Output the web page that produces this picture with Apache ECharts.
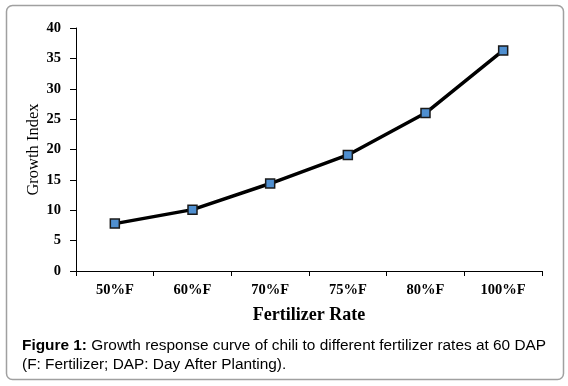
<!DOCTYPE html>
<html>
<head>
<meta charset="utf-8">
<script src="https://cdn.jsdelivr.net/npm/echarts@6/dist/echarts.min.js"></script>
<style>
  html, body { margin: 0; padding: 0; background: #fff; }
  #chart { width: 568px; height: 386px; }
</style>
</head>
<body>
<div id="chart"></div>
<script>
// chart data
const rates = ['50%F', '60%F', '70%F', '75%F', '80%F', '100%F'];
const growthIndex = [7.8, 10.1, 14.4, 19.1, 26.0, 36.3];

const myChart = echarts.init(document.getElementById('chart'));

const serif = '"Liberation Serif", "Times New Roman", serif';
const sans = '"Liberation Sans", Arial, sans-serif';

const option = {
  animation: false,
  backgroundColor: '#fff',
  grid: { left: 76, right: 26, top: 28, bottom: 115 },
  xAxis: {
    type: 'category',
    data: rates,
    boundaryGap: true,
    name: 'Fertilizer Rate',
    nameLocation: 'middle',
    nameGap: 35,
    nameTextStyle: { fontFamily: serif, fontSize: 18, fontWeight: 'bold', color: '#000' },
    axisLine: { lineStyle: { color: '#000', width: 1 } },
    axisTick: { show: true, length: 5, lineStyle: { color: '#000' } },
    axisLabel: { fontFamily: serif, fontSize: 14.5, fontWeight: 'bold', color: '#000', margin: 12 }
  },
  yAxis: {
    type: 'value',
    min: 0,
    max: 40,
    interval: 5,
    name: 'Growth Index',
    nameLocation: 'middle',
    nameGap: 34,
    nameMoveOverlap: false,
    nameTextStyle: { fontFamily: serif, fontSize: 16.5, color: '#000' },
    axisLine: { show: true, lineStyle: { color: '#000', width: 1 } },
    axisTick: { show: true, length: 6, lineStyle: { color: '#000' } },
    splitLine: { show: false },
    axisLabel: { fontFamily: serif, fontSize: 14.5, fontWeight: 'bold', color: '#000', margin: 15 }
  },
  series: [
    {
      type: 'line',
      data: growthIndex,
      symbol: 'rect',
      symbolSize: 9,
      lineStyle: { color: '#000', width: 3.5 },
      itemStyle: { color: '#4f8fd0', borderColor: '#1a1a1a', borderWidth: 1.5 },
      z: 3
    }
  ],
  graphic: [
    {
      type: 'rect',
      shape: { x: 6.5, y: 5.5, width: 557, height: 374, r: 6 },
      style: { fill: 'none', stroke: '#a0a0a0', lineWidth: 1.5 },
      silent: true,
      z: -1
    },
    {
      type: 'text',
      left: 22,
      top: 336,
      style: {
        text: '{b|Figure 1:} Growth response curve of chili to different fertilizer rates at 60 DAP\n(F: Fertilizer; DAP: Day After Planting).',
        font: '15.4px ' + sans,
        fill: '#000',
        lineHeight: 19,
        rich: {
          b: { fontFamily: sans, fontSize: 15.4, fontWeight: 'bold', fill: '#000' }
        }
      }
    }
  ]
};

myChart.setOption(option);
</script>
</body>
</html>
